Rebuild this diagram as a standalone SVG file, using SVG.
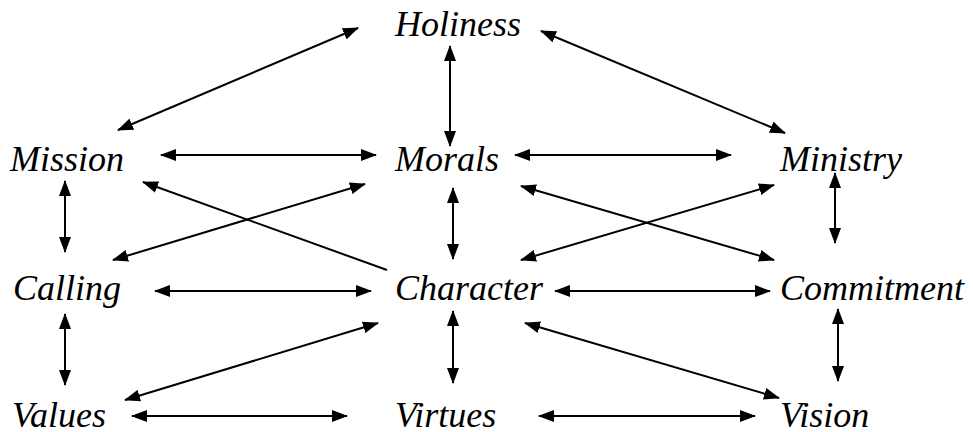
<svg xmlns="http://www.w3.org/2000/svg" width="973" height="432" viewBox="0 0 973 432">
<defs>
<marker id="ah" viewBox="0 0 16 12" refX="15" refY="6" markerWidth="16" markerHeight="12" markerUnits="userSpaceOnUse" orient="auto-start-reverse">
<path d="M0,0 L16,6 L0,12 z" fill="#000"/>
</marker>
</defs>
<rect width="973" height="432" fill="#fff"/>
<g id="holiness"><text x="395" y="36" font-family="Times New Roman" style="font-family:'Times New Roman';font-style:italic" font-style="italic" font-size="36">Holiness</text></g>
<g id="mission"><text x="10" y="171" font-family="Times New Roman" style="font-family:'Times New Roman';font-style:italic" font-style="italic" font-size="36">Mission</text></g>
<g id="morals"><text x="395" y="171" font-family="Times New Roman" style="font-family:'Times New Roman';font-style:italic" font-style="italic" font-size="36">Morals</text></g>
<g id="ministry"><text x="780" y="171" font-family="Times New Roman" style="font-family:'Times New Roman';font-style:italic" font-style="italic" font-size="36">Ministry</text></g>
<g id="calling"><text x="13" y="300" font-family="Times New Roman" style="font-family:'Times New Roman';font-style:italic" font-style="italic" font-size="36">Calling</text></g>
<g id="character"><text x="395" y="300" font-family="Times New Roman" style="font-family:'Times New Roman';font-style:italic" font-style="italic" font-size="36">Character</text></g>
<g id="commitment"><text x="780" y="300" font-family="Times New Roman" style="font-family:'Times New Roman';font-style:italic" font-style="italic" font-size="36">Commitment</text></g>
<g id="values"><text x="12" y="427" font-family="Times New Roman" style="font-family:'Times New Roman';font-style:italic" font-style="italic" font-size="36">Values</text></g>
<g id="virtues"><text x="395" y="427" font-family="Times New Roman" style="font-family:'Times New Roman';font-style:italic" font-style="italic" font-size="36">Virtues</text></g>
<g id="vision"><text x="780" y="427" font-family="Times New Roman" style="font-family:'Times New Roman';font-style:italic" font-style="italic" font-size="36">Vision</text></g>
<g id="connectors" stroke="#000" stroke-width="2" fill="none">
<line marker-start="url(#ah)" marker-end="url(#ah)" x1="358" y1="28" x2="118" y2="130"/>
<line marker-start="url(#ah)" marker-end="url(#ah)" x1="450" y1="46" x2="450" y2="146"/>
<line marker-start="url(#ah)" marker-end="url(#ah)" x1="541" y1="31" x2="785" y2="133"/>
<line marker-start="url(#ah)" marker-end="url(#ah)" x1="161" y1="155" x2="376" y2="155"/>
<line marker-start="url(#ah)" marker-end="url(#ah)" x1="515" y1="155" x2="731" y2="155"/>
<line marker-start="url(#ah)" marker-end="url(#ah)" x1="65" y1="181" x2="65" y2="252"/>
<line marker-end="url(#ah)" x1="387" y1="270" x2="143" y2="182"/>
<line marker-start="url(#ah)" marker-end="url(#ah)" x1="113" y1="260" x2="365" y2="184"/>
<line marker-start="url(#ah)" marker-end="url(#ah)" x1="453" y1="188" x2="453" y2="259"/>
<line marker-start="url(#ah)" marker-end="url(#ah)" x1="521" y1="186" x2="774" y2="260"/>
<line marker-start="url(#ah)" marker-end="url(#ah)" x1="521" y1="260" x2="774" y2="185"/>
<line marker-start="url(#ah)" marker-end="url(#ah)" x1="835" y1="173" x2="835" y2="243"/>
<line marker-start="url(#ah)" marker-end="url(#ah)" x1="155" y1="291" x2="371" y2="291"/>
<line marker-start="url(#ah)" marker-end="url(#ah)" x1="555" y1="291" x2="770" y2="291"/>
<line marker-start="url(#ah)" marker-end="url(#ah)" x1="65" y1="314" x2="65" y2="385"/>
<line marker-start="url(#ah)" marker-end="url(#ah)" x1="453" y1="311" x2="453" y2="383"/>
<line marker-start="url(#ah)" marker-end="url(#ah)" x1="838" y1="309" x2="838" y2="381"/>
<line marker-start="url(#ah)" marker-end="url(#ah)" x1="125" y1="400" x2="378" y2="323"/>
<line marker-start="url(#ah)" marker-end="url(#ah)" x1="525" y1="323" x2="779" y2="398"/>
<line marker-start="url(#ah)" marker-end="url(#ah)" x1="132" y1="416" x2="347" y2="416"/>
<line marker-start="url(#ah)" marker-end="url(#ah)" x1="539" y1="416" x2="755" y2="416"/>
</g>
</svg>
